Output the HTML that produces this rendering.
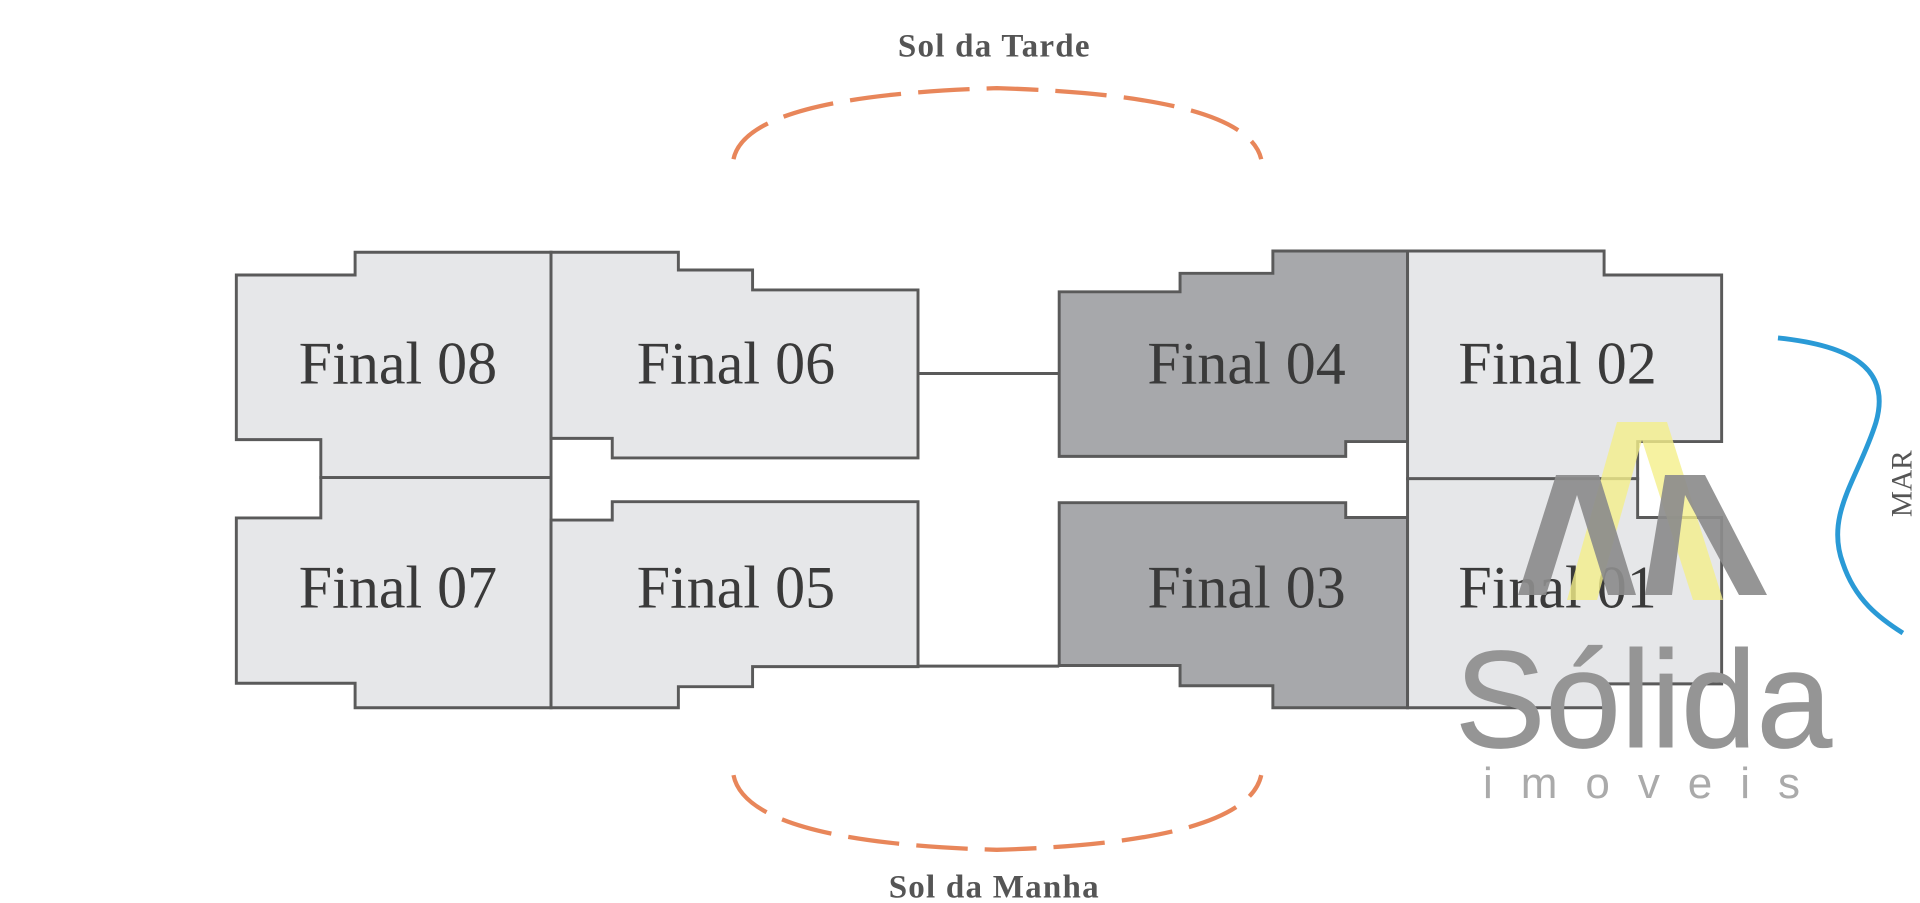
<!DOCTYPE html>
<html><head><meta charset="utf-8"><style>
html,body{margin:0;padding:0;background:#fff;}
svg{display:block;}
</style></head><body>
<svg width="1920" height="903" viewBox="0 0 1920 903" xmlns="http://www.w3.org/2000/svg">
<rect width="1920" height="903" fill="#fff"/>
<g transform="scale(1.2245)">
  <g stroke="#5a5a5a" stroke-width="2.4" stroke-linejoin="miter">
    <line x1="750" y1="305" x2="865" y2="305"/>
    <line x1="750" y1="544" x2="865" y2="544"/>
    <polygon fill="#e6e7e9" points="290,206 450,206 450,390 262,390 262,359 193,359 193,224.6 290,224.6"/>
    <polygon fill="#e6e7e9" points="262,390 450,390 450,578 290,578 290,558 193,558 193,423 262,423"/>
    <polygon fill="#e6e7e9" points="450,206 554,206 554,220.5 614.6,220.5 614.6,236.8 749.7,236.8 749.7,374 500,374 500,358 450,358"/>
    <polygon fill="#e6e7e9" points="450,424.7 500,424.7 500,409.7 749.7,409.7 749.7,544.4 614.6,544.4 614.6,560.8 554,560.8 554,578 450,578"/>
    <polygon fill="#a7a8ab" points="865,238.3 963.7,238.3 963.7,223.2 1039.5,223.2 1039.5,205 1149.5,205 1149.5,360.6 1099,360.6 1099,372.7 865,372.7"/>
    <polygon fill="#a7a8ab" points="865,410.5 1099,410.5 1099,422.6 1149.5,422.6 1149.5,578 1039.5,578 1039.5,560 963.7,560 963.7,543.5 865,543.5"/>
    <polygon fill="#e6e7e9" points="1149.5,205 1310,205 1310,224.6 1406,224.6 1406,360.6 1337.4,360.6 1337.4,390.9 1149.5,390.9"/>
    <polygon fill="#e6e7e9" points="1149.5,390.9 1337.4,390.9 1337.4,422.6 1406,422.6 1406,558.5 1310,558.5 1310,578 1149.5,578"/>
  </g>
  <g font-family="'Liberation Serif', serif" font-size="49" fill="#3a3a3a" text-anchor="middle">
    <text x="325" y="313">Final 08</text>
    <text x="601" y="313">Final 06</text>
    <text x="1018" y="313">Final 04</text>
    <text x="1272" y="313">Final 02</text>
    <text x="325" y="496">Final 07</text>
    <text x="601" y="496">Final 05</text>
    <text x="1018" y="496">Final 03</text>
    <text x="1272" y="496">Final 01</text>
  </g>
  <g font-family="'Liberation Serif', serif" font-size="27" font-weight="bold" fill="#555" text-anchor="middle" letter-spacing="1">
    <text x="812" y="46">Sol da Tarde</text>
    <text x="812" y="733">Sol da Manha</text>
  </g>
  <g fill="none" stroke="#e8865a" stroke-width="3.5" stroke-dasharray="42,14">
    <path d="M599,130 Q610,78 814,72 Q1018,78 1030,130"/>
    <path d="M599,633 Q610,688 814,694 Q1018,688 1030,633"/>
  </g>
  <path d="M1452,276 C1510,282 1545,300 1532,345 C1518,390 1490,420 1505,460 C1515,490 1535,505 1554,517" fill="none" stroke="#2a9ad6" stroke-width="4"/>
  <text x="0" y="0" font-family="'Liberation Serif', serif" font-size="24" fill="#555" text-anchor="middle" transform="translate(1561,395) rotate(-90)">MAR</text>
</g>
<polygon fill="#f4ef8a" opacity="0.8" points="1617,422 1667,422 1723,600 1693,600 1642,440 1597,600 1567,600"/>
<polygon fill="#8c8c8c" opacity="0.92" points="1556,475 1599,475 1636,595 1608,595 1577,495 1546,595 1518,595"/>
<polygon fill="#8c8c8c" opacity="0.92" points="1665,475 1705,475 1767,595 1739,595 1685,495 1672,595 1645,595"/>
<text x="1455" y="747" font-family="'Liberation Sans', sans-serif" font-size="138" fill="#959595" stroke="#959595" stroke-width="1" textLength="377" lengthAdjust="spacingAndGlyphs">Sólida</text>
<text x="1483" y="798" font-family="'Liberation Sans', sans-serif" font-size="44" fill="#aaa" textLength="317">imoveis</text>
</svg>
</body></html>
